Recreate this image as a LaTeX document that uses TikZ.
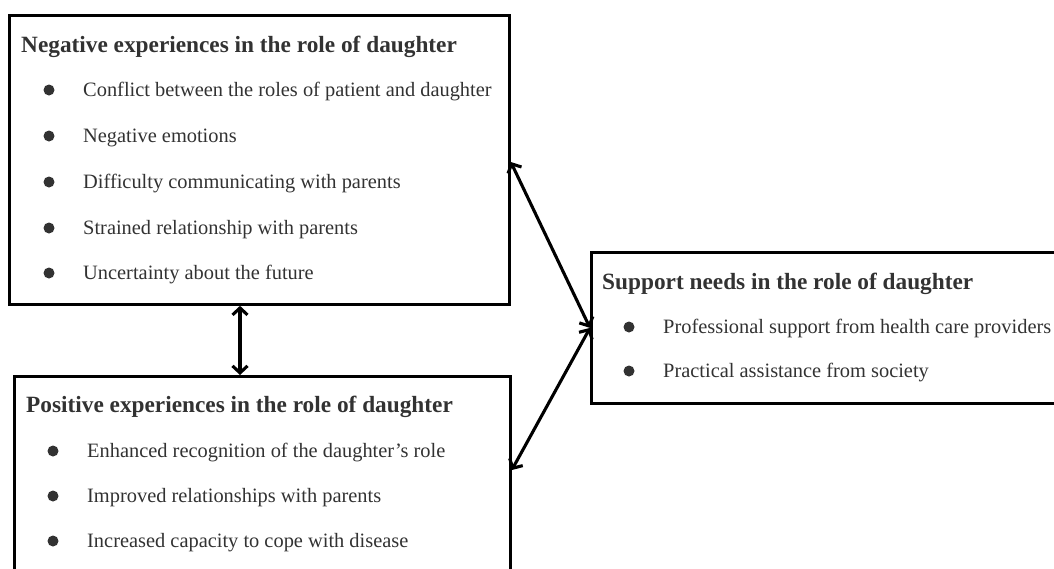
\documentclass[tikz,border=0pt]{standalone}
\usepackage{fontspec}
\setmainfont{Liberation Serif}
\usetikzlibrary{arrows.meta}
\definecolor{txt}{RGB}{50,50,50}
\tikzset{
  box/.style={draw=black, line width=2.8pt, fill=none, inner sep=0pt, anchor=north west},
  ttl/.style={anchor=base west, inner sep=0pt, text=txt, font=\fontsize{23.3}{26}\selectfont\bfseries},
  itm/.style={anchor=base west, inner sep=0pt, text=txt, font=\fontsize{20.4}{24}\selectfont},
  bul/.style={circle, fill=txt, inner sep=0pt, minimum size=11pt},
  arr/.style={line width=3.1pt, {Straight Barb[length=7pt,width=15pt]}-{Straight Barb[length=7pt,width=15pt]}}
}
\begin{document}
\begin{tikzpicture}[x=1pt,y=-1pt]
\useasboundingbox (0,0) rectangle (1054,568);
\clip (0,0) rectangle (1054,568);
% boxes
\node[box, minimum width=500pt, minimum height=289pt] (neg) at (8,14) {};
\node[box, minimum width=496pt, minimum height=210pt] (pos) at (13,375) {};
\node[box, minimum width=480pt, minimum height=151pt] (sup) at (590,251) {};
% negative box
\node[ttl] (negt) at (21,52.5) {Negative experiences in the role of daughter};
\foreach \y/\t [count=\i] in {90/Conflict between the roles of patient and daughter,
  136/Negative emotions,
  182/Difficulty communicating with parents,
  228/Strained relationship with parents,
  273/Uncertainty about the future}{
  \node[bul] (nb\i) at (49,\y) {};
  \node[itm] (ni\i) at (83,\y+6.8) {\t};
}
% positive box
\node[ttl] (post) at (26,412.5) {Positive experiences in the role of daughter};
\foreach \y/\t [count=\i] in {451/Enhanced recognition of the daughter’s role,
  496/Improved relationships with parents,
  541/Increased capacity to cope with disease}{
  \node[bul] (pb\i) at (53,\y) {};
  \node[itm] (pi\i) at (87,\y+6.8) {\t};
}
% support box
\node[ttl] (supt) at (602,289.5) {Support needs in the role of daughter};
\foreach \y/\t [count=\i] in {327/Professional support from health care providers,
  371/Practical assistance from society}{
  \node[bul] (sb\i) at (629,\y) {};
  \node[itm] (si\i) at (663,\y+6.8) {\t};
}
% connectors
\coordinate (va) at (240,340);
\coordinate (ua) at (0,162);
\coordinate (la) at (0,470);
\draw[arr] (neg.south -| va) -- (pos.north -| va);
\draw[arr] (sup.west) -- (neg.east |- ua);
\draw[arr] (sup.west) -- (pos.east |- la);
\end{tikzpicture}
\end{document}
